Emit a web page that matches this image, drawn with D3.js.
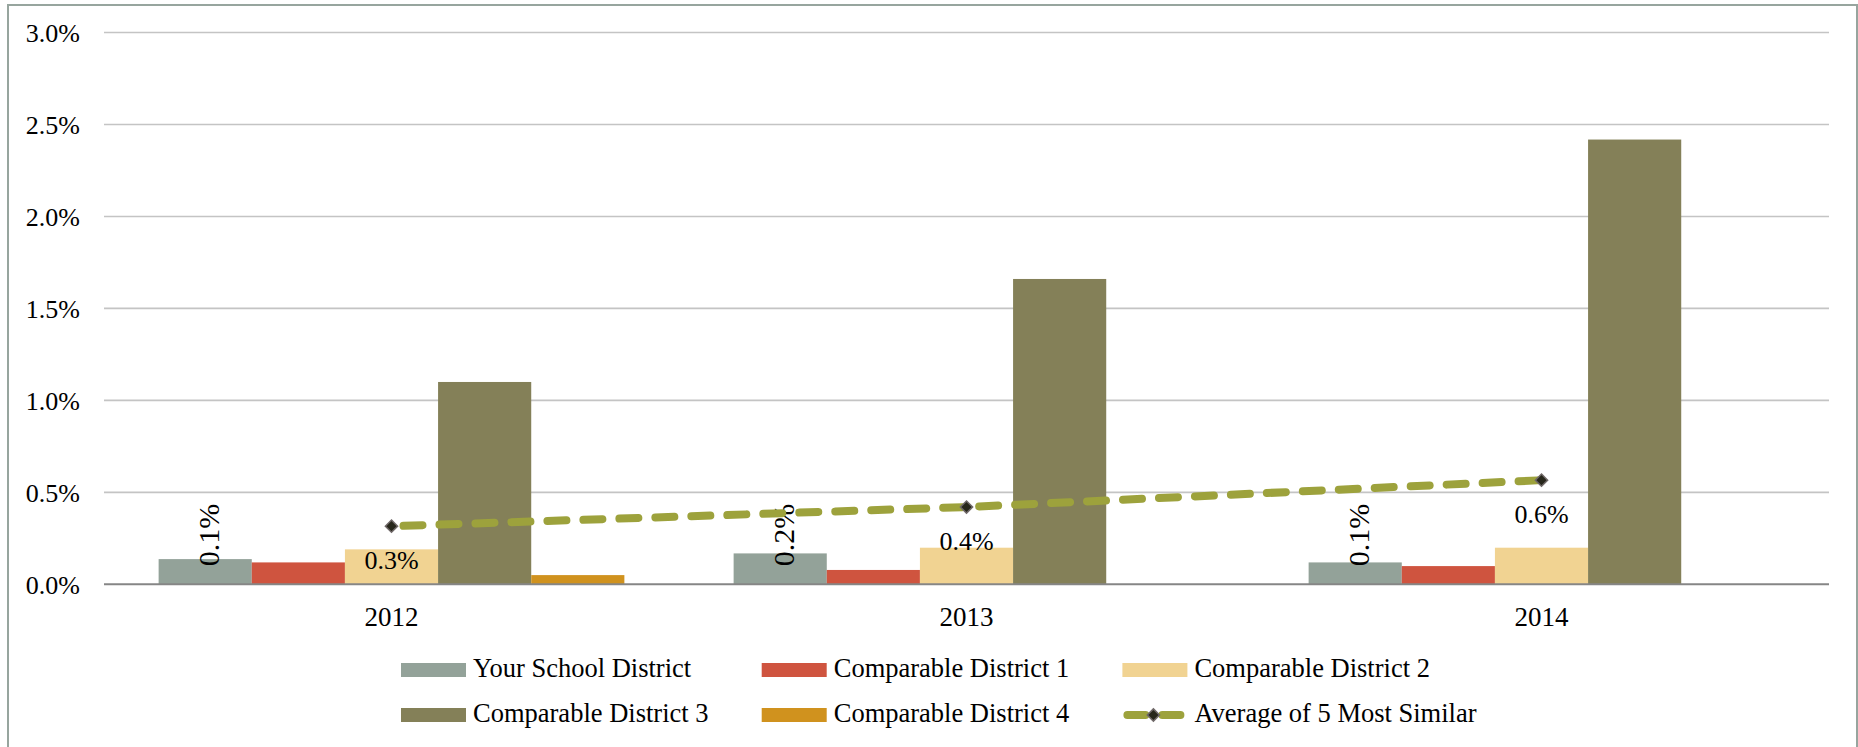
<!DOCTYPE html>
<html>
<head>
<meta charset="utf-8">
<script src="https://cdn.jsdelivr.net/npm/d3@7"></script>
<style>
  body { margin: 0; background: #fff; }
  svg text { font-family: "Liberation Serif", serif !important; fill: #000; }
</style>
</head>
<body>
<script>
// data, in percent
const years = ["2012", "2013", "2014"];
const barSeries = ["Your School District", "Comparable District 1", "Comparable District 2",
                   "Comparable District 3", "Comparable District 4"];
const yourDistrict = [0.137, 0.168, 0.119];
const district1 = [0.119, 0.078, 0.099];
const district2 = [0.19, 0.199, 0.199];
const district3 = [1.10, 1.66, 2.418];
const district4 = [0.05, 0, 0];
const lineName = "Average of 5 Most Similar";
const average5 = [0.316, 0.42, 0.566];
const yTicks = [0, 0.5, 1.0, 1.5, 2.0, 2.5, 3.0];

const barColors = ["#93a299", "#cf543f", "#f1d392", "#848058", "#d0921e"];
const lineColor = "#9da23c";

window.onload = () => {
  const W = 1858, H = 747;
  const left = 104, right = 1829, top = 32.5, bottom = 584.3;
  const fmt = (v) => v.toFixed(1) + "%";

  const barValues = [yourDistrict, district1, district2, district3, district4];

  const svg = d3.select("body").append("svg")
    .attr("width", W)
    .attr("height", H);

  // chart frame
  svg.append("rect")
    .attr("x", 8).attr("y", 5)
    .attr("width", 1849).attr("height", 760)
    .attr("fill", "#fff")
    .attr("stroke", "#97a59e")
    .attr("stroke-width", 2);

  const y = d3.scaleLinear().domain([0, 3]).range([bottom, top]);
  const x0 = d3.scaleBand().domain(years).range([left, right])
    .paddingInner(0.19).paddingOuter(0.095);
  const x1 = d3.scaleBand().domain(barSeries).range([0, x0.bandwidth()]);

  // gridlines
  svg.append("g").selectAll("line")
    .data(yTicks.filter(t => t > 0))
    .join("line")
    .attr("x1", left).attr("x2", right)
    .attr("y1", d => y(d)).attr("y2", d => y(d))
    .attr("stroke", "#c4c4c4")
    .attr("stroke-width", 1.6);

  // y axis labels
  const yAxis = svg.append("g")
    .attr("transform", "translate(" + (left - 24) + ",0)")
    .call(d3.axisLeft(y).tickValues(yTicks).tickFormat(fmt).tickSize(0).tickPadding(0))
    .attr("font-family", null)
    .attr("font-size", 26);
  yAxis.select(".domain").remove();
  yAxis.selectAll("text")
    .attr("fill", "#000")
    .attr("dy", "0.34em");

  // bars
  const groups = svg.append("g").selectAll("g")
    .data(years)
    .join("g")
    .attr("transform", d => "translate(" + x0(d) + ",0)");

  groups.selectAll("rect")
    .data((yr, i) => barSeries.map((s, j) => ({ s: s, v: barValues[j][i], c: barColors[j] })))
    .join("rect")
    .attr("x", d => x1(d.s))
    .attr("width", x1.bandwidth())
    .attr("y", d => y(d.v))
    .attr("height", d => bottom - y(d.v))
    .attr("fill", d => d.c);

  // x axis
  svg.append("line")
    .attr("x1", left).attr("x2", right)
    .attr("y1", bottom).attr("y2", bottom)
    .attr("stroke", "#868686")
    .attr("stroke-width", 2);

  const xAxis = svg.append("g")
    .attr("transform", "translate(0," + bottom + ")")
    .call(d3.axisBottom(d3.scaleBand().domain(years).range([left, right])).tickSize(0).tickPadding(0))
    .attr("font-family", null)
    .attr("font-size", 27);
  xAxis.select(".domain").remove();
  xAxis.selectAll("text")
    .attr("fill", "#000")
    .attr("dy", "1.55em");

  // rotated labels on "Your School District" bars
  svg.append("g").selectAll("text")
    .data(years)
    .join("text")
    .attr("transform", (d, i) => "translate(" + (x0(d) + x1(barSeries[0]) + x1.bandwidth() / 2 + 14) + "," + (bottom - 18) + ") rotate(-90)")
    .attr("font-size", 30)
    .text((d, i) => fmt(yourDistrict[i]));

  // average line
  const cx = (d) => x0(d) + x0.bandwidth() / 2;
  const line = d3.line()
    .x((d, i) => cx(years[i]))
    .y(d => y(d));

  svg.append("path")
    .datum(average5)
    .attr("d", line)
    .attr("fill", "none")
    .attr("stroke", lineColor)
    .attr("stroke-width", 8)
    .attr("stroke-linecap", "round")
    .attr("stroke-dasharray", "19,17")
    .attr("stroke-dashoffset", -12);

  const diamond = d3.symbol(d3.symbolDiamond2, 95);
  svg.append("g").selectAll("path")
    .data(average5)
    .join("path")
    .attr("d", diamond)
    .attr("transform", (d, i) => "translate(" + cx(years[i]) + "," + y(d) + ")")
    .attr("fill", "#27271b")
    .attr("stroke", "#6f6868")
    .attr("stroke-width", 1.5);

  svg.append("g").selectAll("text")
    .data(average5)
    .join("text")
    .attr("x", (d, i) => cx(years[i]))
    .attr("y", d => y(d) + 43)
    .attr("text-anchor", "middle")
    .attr("font-size", 26)
    .text(d => fmt(d));

  // legend
  const legendItems = barSeries.map((s, j) => ({ name: s, color: barColors[j], type: "bar" }))
    .concat([{ name: lineName, color: lineColor, type: "line" }]);

  const legend = svg.append("g").selectAll("g")
    .data(legendItems)
    .join("g")
    .attr("transform", (d, i) => "translate(" + (401 + (i % 3) * 360.7) + "," + (663 + Math.floor(i / 3) * 45) + ")");

  legend.filter(d => d.type === "bar").append("rect")
    .attr("width", 65)
    .attr("height", 14)
    .attr("fill", d => d.color);

  const lg = legend.filter(d => d.type === "line");
  lg.append("line")
    .attr("x1", 5).attr("x2", 60)
    .attr("y1", 7).attr("y2", 7)
    .attr("stroke", lineColor)
    .attr("stroke-width", 8)
    .attr("stroke-linecap", "round")
    .attr("stroke-dasharray", "18,17");
  lg.append("path")
    .attr("d", diamond)
    .attr("transform", "translate(31,7)")
    .attr("fill", "#27271b")
    .attr("stroke", "#6f6868")
    .attr("stroke-width", 1.5);

  legend.append("text")
    .attr("x", 72)
    .attr("y", 14)
    .attr("font-size", 26.5)
    .text(d => d.name);
};
</script>
</body>
</html>
